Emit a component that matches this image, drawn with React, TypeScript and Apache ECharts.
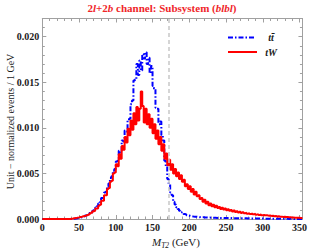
import React, { useEffect, useRef } from 'react';
import * as echarts from 'echarts';

// Histogram bins: left edges every 2 GeV from 0 GeV (M_T2)
const BIN_WIDTH = 2;
const X_MAX = 354;
const Y_MAX = 0.022;
const TOP_MASS = 172.5;

// Unit-normalized events per GeV, in units of 1e-4
const ttbarE4 = [
  0, 0, 0, 0, 0, 0, 0, 0, 0, 0,
  0, 0, 0, 0, 0, 0, 0, 0, 0, 0,
  0.2, 0.3, 0.5, 0.8, 1.2, 1.5, 2, 2.6, 3, 3.8,
  4.5, 5, 6.5, 7, 9, 10, 12.5, 14, 17, 18.5,
  23, 23, 29, 30, 36, 39, 45, 47, 53, 55,
  63, 64, 75, 73, 86, 85, 97, 96, 108, 110,
  126, 130, 152, 153, 170, 158, 174, 163, 181, 176,
  183, 170, 177, 160, 168, 146, 143, 122, 121, 104,
  107, 92, 86, 64, 58, 44, 38, 29, 26, 19,
  16, 13, 11, 9, 7.5, 6.5, 5.5, 5, 4.2, 3.8,
  3.2, 3, 2.6, 2.4, 2.5, 2.2, 2, 2.1, 1.8, 1.9,
  1.6, 1.7, 1.5, 1.6, 1.4, 1.5, 1.3, 1.4, 1.2, 1.3,
  1.2, 1.1, 1.2, 1, 1.1, 1, 1, 0.9, 1, 0.9,
  0.9, 0.8, 0.9, 0.8, 0.8, 0.7, 0.8, 0.7, 0.7, 0.6,
  0.7, 0.6, 0.6, 0.5, 0.6, 0.5, 0.5, 0.5, 0.4, 0.5,
  0.4, 0.4, 0.4, 0.3, 0.4, 0.3, 0.3, 0.3, 0.3, 0.2,
  0.3, 0.2, 0.2, 0.2, 0.2, 0.2, 0.2, 0.1, 0.2, 0.1,
  0.1, 0.1, 0.1, 0.1, 0.1, 0.1, 0.1, 0.1,
];

const tWE4 = [
  0, 0, 0, 0, 0, 0, 0, 0, 0, 0,
  0, 0, 0, 0, 0, 0, 0, 0, 0, 0.3,
  0.5, 0.8, 1, 1.5, 1.8, 2.2, 2.5, 3, 3.2, 3.8,
  4.5, 4.8, 6, 6.8, 8.5, 9, 11.5, 11.5, 14.5, 15.5,
  20, 20, 26, 26, 33, 34, 41, 42, 50, 51,
  60, 58, 71, 66, 80, 76, 90, 84, 99, 92,
  108, 98, 116, 104, 123, 108, 121, 140, 124, 106,
  121, 104, 115, 100, 110, 94, 104, 88, 97, 82,
  90, 75, 82, 66, 72, 59, 65, 54, 60, 50,
  55, 47, 51, 44, 48, 41, 43, 36, 38, 33,
  36, 30, 33, 27, 30, 25, 26, 22, 23, 19,
  21, 17, 19, 15, 17, 14, 15.5, 13, 14.5, 12,
  13.2, 11, 12.4, 10.3, 11.4, 9.6, 10.8, 9, 9.9, 8.3,
  9.2, 7.7, 8.6, 7.1, 8, 6.5, 7.4, 6.2, 6.9, 5.8,
  6.4, 5.4, 6, 5.1, 5.7, 4.8, 5.3, 4.4, 5, 4.1,
  4.4, 4, 4.1, 3.7, 3.8, 3.4, 3.5, 3.1, 3.2, 2.8,
  2.9, 2.6, 2.6, 2.3, 2.4, 2.1, 2.1, 1.9, 1.9, 1.7,
  1.7, 1.5, 1.5, 1.3, 1.4, 1.2, 1.2, 1.1,
];

const seriesNames = ['tt̄', 'tW'];
const yTickLabels = ['0.000', '0.005', '0.010', '0.015', '0.020'];
const xTickLabels = ['0', '50', '100', '150', '200', '250', '300', '350'];

const FRAME = '#a0a0a0';
const SERIF = '"Liberation Serif", "DejaVu Serif", serif';

export default function App() {
  const ref = useRef<HTMLDivElement>(null);

  useEffect(() => {
    if (!ref.current) return;
    const chart = echarts.init(ref.current, null, { renderer: 'svg' });
    const toPairs = (vals: number[]) => vals.map((v, i) => [i * BIN_WIDTH, v * 1e-4]);

    const majorX = (position: string, labels: boolean) => ({
      type: 'value', position, min: 0, max: X_MAX, interval: 50,
      axisLine: { show: true, onZero: false, lineStyle: { color: FRAME, width: 1 } },
      axisTick: { show: true, inside: true, length: 4, lineStyle: { color: FRAME } },
      splitLine: { show: false },
      axisLabel: labels ? {
        show: true, margin: 3, showMaxLabel: false,
        fontFamily: SERIF, fontWeight: 'bold', fontSize: 10, color: '#1a1a1a',
        formatter: (v: number) => { const s = String(Math.round(v)); return xTickLabels.includes(s) && Math.abs(v - Math.round(v)) < 1e-6 ? s : ''; },
      } : { show: false },
    });
    const minorX = (position: string) => ({
      type: 'value', position, min: 0, max: X_MAX, interval: 10,
      axisLine: { show: false, onZero: false },
      axisTick: { show: true, inside: true, length: 2.5, lineStyle: { color: FRAME } },
      splitLine: { show: false }, axisLabel: { show: false },
    });
    const majorY = (position: string, labels: boolean) => ({
      type: 'value', position, min: 0, max: Y_MAX, interval: 0.005,
      axisLine: { show: true, onZero: false, lineStyle: { color: FRAME, width: 1 } },
      axisTick: { show: true, inside: true, length: 4, lineStyle: { color: FRAME } },
      splitLine: { show: false },
      axisLabel: labels ? {
        show: true, margin: 3, showMaxLabel: false,
        fontFamily: SERIF, fontWeight: 'bold', fontSize: 10, color: '#1a1a1a',
        formatter: (v: number) => { const s = v.toFixed(3); return yTickLabels.includes(s) ? s : ''; },
      } : { show: false },
    });
    const minorY = (position: string) => ({
      type: 'value', position, min: 0, max: Y_MAX, interval: 0.001,
      axisLine: { show: false, onZero: false },
      axisTick: { show: true, inside: true, length: 2.5, lineStyle: { color: FRAME } },
      splitLine: { show: false }, axisLabel: { show: false },
    });

    const titleRich = {
      n: { fontFamily: SERIF, fontWeight: 'bold', fontSize: 11, fill: '#f0262a' },
      i: { fontFamily: SERIF, fontWeight: 'bold', fontStyle: 'italic', fontSize: 11, fill: '#f0262a' },
    };

    chart.setOption({
      animation: false,
      grid: { left: 42.3, right: 1, top: 18.5, bottom: 31, containLabel: false },
      xAxis: [majorX('bottom', true), minorX('bottom'), majorX('top', false), minorX('top')],
      yAxis: [majorY('left', true), minorY('left'), majorY('right', false), minorY('right')],
      series: [
        {
          type: 'line', name: 'mt', data: [], xAxisIndex: 0, yAxisIndex: 0, z: 1,
          markLine: {
            silent: true, symbol: 'none', label: { show: false },
            lineStyle: { color: '#c8c8c8', type: [4, 3], width: 1.5 },
            data: [{ xAxis: TOP_MASS }],
          },
        },
        {
          type: 'line', name: seriesNames[0], data: toPairs(ttbarE4), step: 'end',
          xAxisIndex: 0, yAxisIndex: 0, showSymbol: false, z: 3,
          lineStyle: { color: '#0000ff', width: 2, type: [5, 2, 1.5, 2] },
        },
        {
          type: 'line', name: seriesNames[1], data: toPairs(tWE4), step: 'end',
          xAxisIndex: 0, yAxisIndex: 0, showSymbol: false, z: 4,
          lineStyle: { color: '#ff0000', width: 2 },
        },
      ],
      graphic: [
        {
          type: 'text', x: 162, y: 8,
          style: {
            text: '{n|2}{i|l}{n|+2}{i|b}{n| channel: Subsystem (}{i|blbl}{n|)}',
            rich: titleRich, align: 'center', verticalAlign: 'middle',
          },
        },
        {
          type: 'text', x: 10, y: 121.5, rotation: Math.PI / 2,
          style: {
            text: 'Unit − normalized events / 1 GeV', align: 'center', verticalAlign: 'middle',
            fontFamily: SERIF, fontSize: 10, fill: '#1a1a1a',
          },
        },
        {
          type: 'text', x: 176, y: 242,
          style: {
            text: '{m|M}{s|T2}{n| (GeV)}', align: 'center', verticalAlign: 'middle',
            rich: {
              m: { fontFamily: SERIF, fontStyle: 'italic', fontSize: 11, fill: '#1a1a1a', lineHeight: 14, verticalAlign: 'middle' },
              s: { fontFamily: SERIF, fontStyle: 'italic', fontSize: 7.5, fill: '#1a1a1a', lineHeight: 14, verticalAlign: 'bottom' },
              n: { fontFamily: SERIF, fontSize: 11, fill: '#1a1a1a', lineHeight: 14, verticalAlign: 'middle' },
            },
          },
        },
        {
          type: 'line', shape: { x1: 228, y1: 37.5, x2: 254, y2: 37.5 },
          style: { stroke: '#0000ff', lineWidth: 2, lineDash: [5, 2, 1.5, 2] },
        },
        {
          type: 'text', x: 271, y: 37.5,
          style: {
            text: seriesNames[0], align: 'center', verticalAlign: 'middle',
            fontFamily: SERIF, fontStyle: 'italic', fontWeight: 'bold', fontSize: 10, fill: '#1a1a1a',
          },
        },
        {
          type: 'line', shape: { x1: 228, y1: 52, x2: 257, y2: 52 },
          style: { stroke: '#ff0000', lineWidth: 2 },
        },
        {
          type: 'text', x: 271, y: 52,
          style: {
            text: seriesNames[1], align: 'center', verticalAlign: 'middle',
            fontFamily: SERIF, fontStyle: 'italic', fontWeight: 'bold', fontSize: 10, fill: '#1a1a1a',
          },
        },
      ],
    });
    return () => chart.dispose();
  }, []);

  return (
    <div
      ref={ref}
      style={{ position: 'fixed', left: 0, top: 0, width: 310, height: 250, background: '#ffffff' }}
    />
  );
}
